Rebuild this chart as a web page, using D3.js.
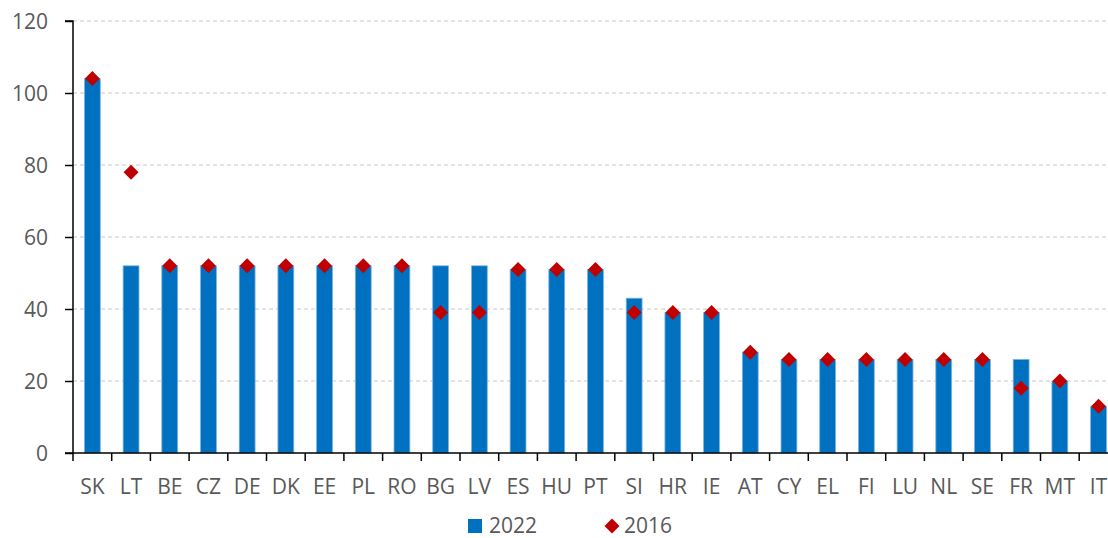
<!DOCTYPE html>
<html>
<head>
<meta charset="utf-8">
<script src="https://cdn.jsdelivr.net/npm/d3@7"></script>
<style>
  html, body { margin: 0; padding: 0; background: #fff; }
  svg { display: block; font-family: "Open Sans", Lato, sans-serif; }
</style>
</head>
<body>
<svg id="chart" width="1108" height="538"></svg>
<script>
const countries = ["SK","LT","BE","CZ","DE","DK","EE","PL","RO","BG","LV","ES","HU","PT","SI","HR","IE","AT","CY","EL","FI","LU","NL","SE","FR","MT","IT"];
const values2022 = [104,52,52,52,52,52,52,52,52,52,52,51,51,51,43,39,39,28,26,26,26,26,26,26,26,20,13];
const values2016 = [104,78,52,52,52,52,52,52,52,39,39,51,51,51,39,39,39,28,26,26,26,26,26,26,18,20,13];
const yTicks = [0,20,40,60,80,100,120];
const seriesNames = ["2022","2016"];

const barColor = "#0070C0";
const markColor = "#C00000";
const textColor = "#595959";
const fontSize = 21;

const svg = d3.select("#chart");
const plotLeft = 73, plotTop = 21, plotBottom = 453;
const bandW = 38.7;

const x = d3.scaleBand()
  .domain(countries)
  .range([plotLeft, plotLeft + bandW * countries.length])
  .paddingInner(0.59)
  .paddingOuter(0.295);

const y = d3.scaleLinear().domain([0, 120]).range([plotBottom, plotTop]);

// horizontal gridlines
svg.append("g")
  .selectAll("line")
  .data(yTicks.filter(d => d > 0))
  .join("line")
  .attr("x1", plotLeft).attr("x2", 1108)
  .attr("y1", d => y(d)).attr("y2", d => y(d))
  .attr("stroke", "#C8C8C8")
  .attr("stroke-width", 1)
  .attr("stroke-dasharray", "4,3");

// bars (2022)
svg.append("g")
  .selectAll("rect")
  .data(countries)
  .join("rect")
  .attr("x", d => x(d))
  .attr("width", x.bandwidth())
  .attr("y", (d, i) => y(values2022[i]))
  .attr("height", (d, i) => plotBottom - y(values2022[i]))
  .attr("fill", barColor)
  .attr("stroke", "#7FB4E0")
  .attr("stroke-width", 0.8);

// y axis
const yAxis = d3.axisLeft(y).tickValues(yTicks).tickSize(8).tickPadding(17);
const gy = svg.append("g").attr("transform", `translate(${plotLeft},0)`).call(yAxis);
gy.select(".domain").attr("stroke", "#000").attr("stroke-width", 1.5).attr("d", `M-8,${plotTop}H0V${plotBottom}H-8`);
gy.selectAll(".tick line").attr("stroke", "#000").attr("stroke-width", 1.5);
gy.selectAll(".tick text")
  .attr("fill", textColor)
  .attr("font-size", fontSize)
  .attr("font-family", "'Open Sans', Lato, sans-serif")
  .attr("dy", "0.37em");

// x axis with ticks at category boundaries
const gx = svg.append("g").attr("transform", `translate(0,${plotBottom})`);
gx.append("line")
  .attr("x1", plotLeft).attr("x2", 1108)
  .attr("stroke", "#000").attr("stroke-width", 1.5);
const boundaries = d3.range(countries.length + 1).map(i => x.range()[0] + i * x.step());
gx.selectAll(".bt")
  .data(boundaries)
  .join("line")
  .attr("class", "bt")
  .attr("x1", d => d).attr("x2", d => d)
  .attr("y1", 0).attr("y2", 8)
  .attr("stroke", "#000").attr("stroke-width", 1.5);
gx.selectAll("text")
  .data(countries)
  .join("text")
  .attr("x", d => x(d) + x.bandwidth() / 2)
  .attr("y", 41)
  .attr("text-anchor", "middle")
  .attr("fill", textColor)
  .attr("font-size", fontSize)
  .text(d => d);

// 2016 markers: squares rotated into diamonds
const markerShape = d3.symbol().type(d3.symbolSquare).size(112);
svg.append("g")
  .selectAll("path")
  .data(countries)
  .join("path")
  .attr("transform", (d, i) => `translate(${x(d) + x.bandwidth() / 2},${y(values2016[i])}) rotate(45)`)
  .attr("d", markerShape)
  .attr("fill", markColor);

// legend
const lg = svg.append("g").attr("transform", "translate(0,525)");
lg.append("rect").attr("x", 468).attr("y", -6).attr("width", 14).attr("height", 14).attr("fill", barColor);
lg.append("text").attr("x", 489).attr("y", 7.5).attr("fill", textColor).attr("font-size", fontSize).text(seriesNames[0]);
lg.append("path")
  .attr("transform", "translate(612,1) rotate(45)")
  .attr("d", markerShape)
  .attr("fill", markColor);
lg.append("text").attr("x", 624).attr("y", 7.5).attr("fill", textColor).attr("font-size", fontSize).text(seriesNames[1]);
</script>
</body>
</html>
